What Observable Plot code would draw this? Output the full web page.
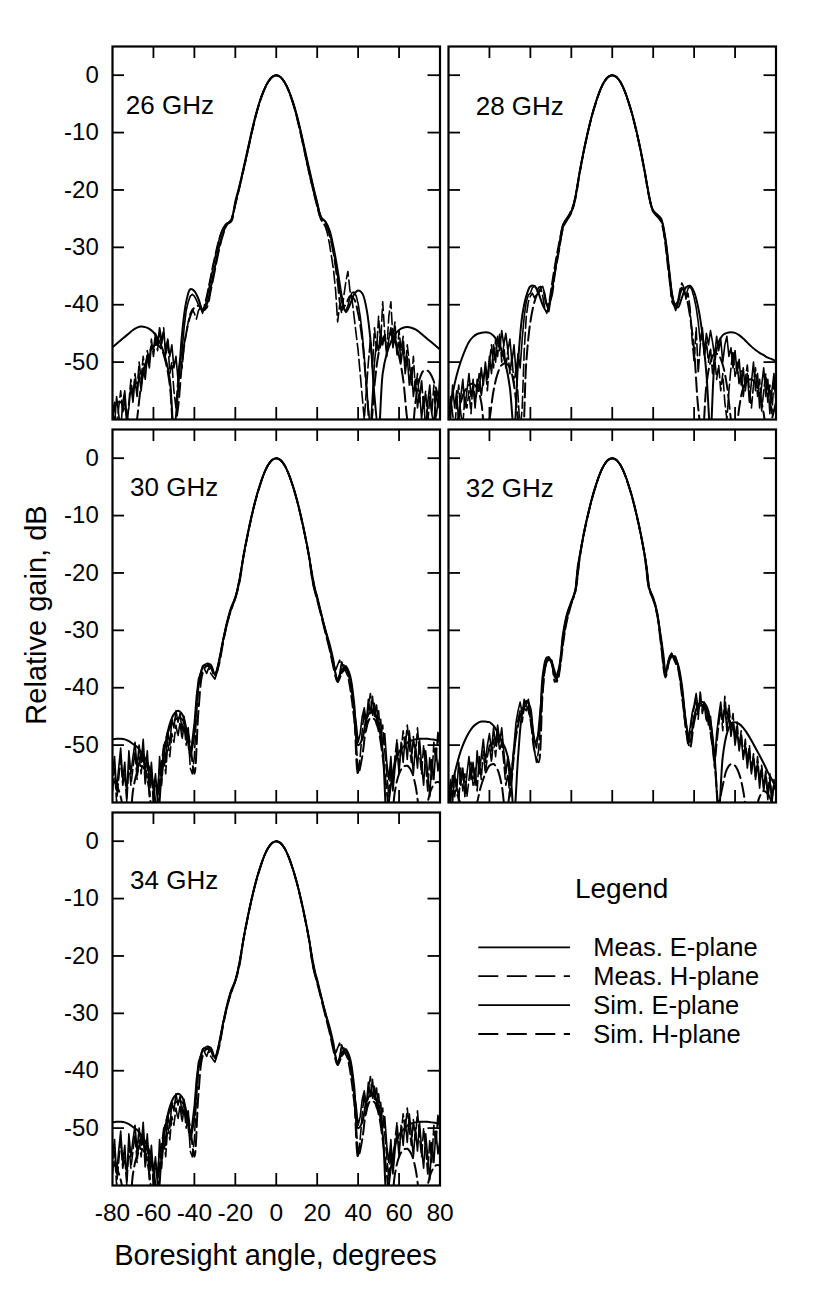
<!DOCTYPE html>
<html><head><meta charset="utf-8">
<script src="https://cdn.jsdelivr.net/npm/d3@7"></script>
<script src="https://cdn.jsdelivr.net/npm/@observablehq/plot@0.6"></script>
<style>
html,body{margin:0;padding:0;background:#fff;}
#page{position:relative;width:830px;height:1308px;overflow:hidden;background:#fff;}
#page svg{position:absolute;}
</style></head><body><div id="page"></div>
<script>
// ---------- angle grids (degrees) ----------
const simAngles = [-80,-78,-76,-74,-72,-70,-68,-66,-64,-62,-60,-58,-56,-54,-52,-50,-48,-46,-44,-42,-40,-38,-36,-34,-32,-30,-28,-26,-24,-22,-20,-18,-16,-14,-12,-10,-8,-6,-4,-2,0,2,4,6,8,10,12,14,16,18,20,22,24,26,28,30,32,34,36,38,40,42,44,46,48,50,52,54,56,58,60,62,64,66,68,70,72,74,76,78,80];
const measAngles = [-80,-79,-78,-77,-76,-75,-74,-73,-72,-71,-70,-69,-68,-67,-66,-65,-64,-63,-62,-61,-60,-59,-58,-57,-56,-55,-54,-53,-52,-51,-50,-49,-48,-47,-46,-45,-44,-43,-42,-41,-40,-39,-38,-37,-36,-35,-34,-33,-32,-31,-30,-29,-28,-27,-26,-25,-24,-23,-22,-21,-20,-19,-18,-17,-16,-15,-14,-13,-12,-11,-10,-9,-8,-7,-6,-5,-4,-3,-2,-1,0,1,2,3,4,5,6,7,8,9,10,11,12,13,14,15,16,17,18,19,20,21,22,23,24,25,26,27,28,29,30,31,32,33,34,35,36,37,38,39,40,41,42,43,44,45,46,47,48,49,50,51,52,53,54,55,56,57,58,59,60,61,62,63,64,65,66,67,68,69,70,71,72,73,74,75,76,77,78,79,80];

// ---------- tick values ----------
const xTickLabels = [-80,-60,-40,-20,0,20,40,60,80];
const xInnerTicks = [-60,-40,-20,0,20,40,60];
const yTicks = [0,-10,-20,-30,-40,-50];

// ---------- 26 GHz ----------
const simE26 = [-47.4,-46.8,-46.2,-45.6,-45.0,-44.4,-44.0,-43.8,-43.9,-44.2,
 -44.8,-45.8,-47.3,-49.5,-53,-62,-55,-45,-39.5,-37.3,
 -37.6,-39.0,-40.8,-40.0,-37.0,-33.5,-30.0,-27.5,-25.9,-25.3,
 -22.0,-19.3,-16.2,-13.0,-9.8,-6.9,-4.5,-2.6,-1.2,-0.3,
 0,
 -0.3,-1.2,-2.6,-4.5,-6.9,-9.8,-13.0,-16.2,-19.3,-22.2,
 -24.8,-25.5,-27.0,-30.0,-34.0,-38.5,-41.3,-40.0,-38.2,-37.5,
 -38.0,-40.5,-46,-56,-62,-52,-48.5,-46.5,-45.2,-44.4,
 -44.0,-43.9,-44.0,-44.3,-44.8,-45.4,-46.0,-46.6,-47.2,-47.8];
const simH26 = [-58,-57,-57,-58,-61,-66,-60,-54,-50.5,-48.3,
 -47.2,-47.0,-47.8,-50,-54,-62,-58,-50,-45,-42,
 -40.5,-40.2,-41,-40.5,-37.5,-34,-30.5,-27.8,-26.0,-25.5,
 -22.5,-19.6,-16.5,-13.3,-10.0,-7.1,-4.6,-2.7,-1.2,-0.3,
 0,
 -0.3,-1.2,-2.7,-4.7,-7.2,-10.2,-13.5,-16.8,-19.8,-22.6,
 -25.0,-25.8,-27.8,-31.0,-36.0,-40.5,-40.0,-38.5,-39.0,-41.5,
 -46,-54,-62,-54,-48.5,-46.0,-45.0,-45.2,-46.5,-49,
 -53,-60,-64,-57,-53,-51.5,-51.5,-52.5,-54.5,-57];
const measE26 = [-58,-61,-56,-59,-62,-57,-55,-60,-58,-54,
 -57,-53,-56,-52,-55,-51,-53,-49,-51,-47,
 -48,-45,-47,-44,-46,-45,-48,-46,-49,-47,
 -51,-49,-53,-50,-48,-44,-41,-39.5,-38.5,-38.2,
 -38.5,-39.2,-40.0,-40.6,-41.0,-40.6,-39.2,-37.4,-35.6,-33.8,
 -32.0,-30.3,-28.8,-27.6,-26.7,-26.1,-25.8,-25.6,-25.3,-24.0,
 -22.4,-20.9,-19.4,-17.9,-16.3,-14.8,-13.2,-11.6,-10.0,-8.5,
 -7.0,-5.7,-4.5,-3.5,-2.6,-1.8,-1.2,-0.7,-0.3,-0.1,
 0,
 -0.1,-0.3,-0.7,-1.2,-1.8,-2.6,-3.5,-4.5,-5.7,-7.0,
 -8.5,-10.0,-11.6,-13.2,-14.8,-16.3,-17.9,-19.4,-20.9,-22.3,
 -23.8,-24.8,-25.2,-25.5,-26.2,-27.4,-29.0,-30.8,-32.8,-35.0,
 -37.5,-39.5,-40.8,-41.0,-40.2,-38.8,-37.9,-37.8,-38.4,-39.8,
 -42.0,-45.0,-49.0,-54.0,-58.0,-62.0,-56.0,-50.0,-46.5,-48.0,
 -44.5,-47.0,-45.2,-49.0,-46.0,-44.0,-47.5,-45.0,-48.0,-46.5,
 -50.0,-47.0,-52.0,-49.0,-54.0,-51.0,-56.0,-53.0,-58.0,-55.0,
 -60.0,-56.0,-62.0,-57.0,-54.0,-59.0,-61.0,-55.0,-58.0,-52.0];
const measH26 = [-60,-57,-62,-58,-55,-59,-56,-61,-57,-53,
 -56,-52,-55,-50,-53,-49,-52,-48,-50,-46,
 -49,-46,-48,-45,-47,-44,-49,-46,-52,-50,
 -55,-58,-53,-49,-51,-47,-45,-43,-41.5,-40.8,
 -41.5,-42.5,-41.0,-40.5,-41.5,-40.0,-38.5,-36.8,-35.0,-33.2,
 -31.6,-30.0,-28.6,-27.5,-26.7,-26.1,-25.8,-25.6,-25.2,-24.0,
 -22.6,-21.1,-19.6,-18.1,-16.5,-15.0,-13.4,-11.8,-10.2,-8.6,
 -7.1,-5.8,-4.6,-3.5,-2.6,-1.8,-1.2,-0.7,-0.3,-0.1,
 0,
 -0.1,-0.3,-0.7,-1.2,-1.8,-2.6,-3.6,-4.7,-5.9,-7.3,
 -8.8,-10.4,-12.0,-13.7,-15.4,-17.0,-18.6,-20.1,-21.6,-23.0,
 -24.4,-25.3,-25.8,-26.4,-27.6,-29.4,-31.6,-34.0,-37.5,-43.0,
 -40.0,-41.5,-38.5,-36.0,-34.2,-37.5,-39.0,-42.0,-45.0,-48.0,
 -52.0,-56.0,-60.0,-55.0,-50.0,-46.0,-51.0,-44.0,-48.0,-42.0,
 -47.0,-39.5,-45.0,-48.0,-42.0,-39.5,-46.0,-43.0,-49.0,-44.5,
 -48.0,-45.5,-51.0,-47.0,-50.0,-54.0,-49.0,-55.0,-52.0,-57.0,
 -53.0,-58.0,-55.0,-61.0,-56.0,-59.0,-54.0,-60.0,-57.0,-55.0];

// ---------- 28 GHz ----------
const simE28 = [-59.6,-55.5,-52.3,-49.9,-48.0,-46.5,-45.6,-45.1,-44.9,-44.8,
 -44.9,-45.4,-46.4,-48.0,-50.5,-54.5,-62,-50,-42,-38.5,
 -36.8,-36.7,-38.0,-40.0,-41.2,-38.5,-34.2,-30.0,-26.0,-25.0,
 -23.8,-21.3,-17.0,-13.3,-10.0,-7.1,-4.7,-2.7,-1.2,-0.3,
 0,
 -0.3,-1.2,-2.7,-4.7,-7.1,-10.0,-13.3,-17.0,-21.0,-23.6,
 -24.3,-25.2,-28.5,-34.5,-39.5,-40.5,-38.8,-37.0,-36.7,-37.8,
 -40.5,-45,-52,-62,-50,-46.5,-45.3,-44.9,-44.8,-44.9,
 -45.3,-45.9,-46.6,-47.3,-47.9,-48.4,-48.8,-49.2,-49.5,-49.8];
const simH28 = [-62,-66,-62,-57,-55,-54,-53.8,-54.5,-57,-63,
 -60,-55,-52,-50.5,-50.2,-51,-54,-60,-64,-50,
 -43,-39.5,-37.8,-37.5,-40,-39,-34.5,-30.5,-26.5,-25.2,
 -24.0,-21.5,-17.2,-13.4,-10.1,-7.2,-4.8,-2.7,-1.2,-0.3,
 0,
 -0.3,-1.2,-2.7,-4.8,-7.2,-10.1,-13.4,-17.2,-21.2,-23.8,
 -24.6,-25.6,-29.0,-35.0,-40.0,-39.5,-37.2,-38.5,-42,-48,
 -58,-63,-54,-50,-48.5,-48.8,-50.5,-54,-60,-64,
 -58,-54.5,-53.2,-53.0,-53.6,-55.5,-59,-64,-60,-57];
const measE28 = [-57,-60,-54,-58,-55,-61,-56,-53,-58,-55,
 -52,-56,-54,-58,-53,-55,-51,-54,-50,-53,
 -49,-52,-47,-50,-45.5,-48,-44.5,-47,-45,-48,
 -46,-50,-47,-52,-48.5,-51,-46,-42,-39.5,-38.3,
 -38.0,-37.0,-36.7,-37.2,-38.0,-37.0,-36.8,-38.0,-40.0,-41.2,
 -39.0,-36.5,-34.0,-32.0,-30.2,-28.4,-26.5,-25.4,-25.0,-24.5,
 -23.8,-22.8,-21.0,-19.0,-17.0,-15.1,-13.3,-11.6,-10.0,-8.5,
 -7.1,-5.8,-4.7,-3.6,-2.7,-1.9,-1.2,-0.7,-0.3,-0.1,
 0,
 -0.1,-0.3,-0.7,-1.2,-1.9,-2.7,-3.6,-4.7,-5.8,-7.1,
 -8.5,-10.0,-11.6,-13.3,-15.1,-17.0,-19.0,-21.0,-22.8,-23.6,
 -24.0,-24.3,-24.6,-25.0,-26.5,-28.8,-31.8,-35.0,-37.5,-39.5,
 -40.5,-40.0,-38.5,-37.0,-37.5,-38.5,-37.2,-36.8,-37.5,-38.8,
 -40.5,-43.0,-46.5,-44.0,-48.5,-45.0,-47.0,-44.5,-46.5,-49.0,
 -45.5,-48.0,-46.0,-50.0,-47.0,-45.5,-49.0,-47.5,-51.0,-48.0,
 -52.0,-49.5,-54.0,-51.0,-55.0,-52.0,-57.0,-53.5,-50.0,-55.0,
 -52.0,-58.0,-54.0,-51.0,-56.0,-53.0,-59.0,-55.0,-52.0,-57.0];
const measH28 = [-60,-56,-59,-62,-57,-54,-59,-61,-56,-58,
 -55,-59,-53,-57,-55,-52,-56,-53,-51,-55,
 -50,-47,-51,-46,-49,-45,-50,-47,-51,-48,
 -52,-49,-54,-51,-56,-62,-58,-48,-42,-39.5,
 -38.5,-38.0,-38.8,-38.2,-37.0,-36.8,-38.5,-40.5,-41.5,-40.0,
 -37.5,-35.2,-33.0,-31.0,-29.2,-27.5,-26.0,-25.3,-24.8,-24.2,
 -23.5,-22.6,-21.2,-19.3,-17.3,-15.4,-13.5,-11.8,-10.2,-8.6,
 -7.2,-5.9,-4.8,-3.7,-2.7,-1.9,-1.2,-0.7,-0.3,-0.1,
 0,
 -0.1,-0.3,-0.7,-1.2,-1.9,-2.7,-3.7,-4.8,-5.9,-7.2,
 -8.6,-10.2,-11.8,-13.5,-15.3,-17.2,-19.2,-21.2,-22.9,-23.8,
 -24.2,-24.6,-25.0,-25.6,-27.2,-29.8,-33.0,-36.0,-38.5,-40.0,
 -41.0,-39.5,-37.5,-36.2,-37.0,-39.0,-38.0,-40.5,-46.0,-50.0,
 -44.0,-52.0,-47.0,-45.0,-49.0,-46.5,-50.0,-47.5,-52.0,-49.0,
 -53.0,-50.5,-55.0,-52.0,-57.0,-60.0,-55.0,-51.0,-48.0,-52.5,
 -50.0,-54.0,-51.5,-56.0,-53.0,-50.5,-55.0,-58.0,-54.0,-51.0,
 -56.0,-53.0,-58.5,-55.0,-52.0,-57.0,-54.0,-59.0,-53.0,-56.0];

// ---------- 30 GHz ----------
const simE30 = [-49.0,-48.9,-48.9,-49.0,-49.3,-49.8,-50.3,-51.2,-52.3,-54.0,
 -57.0,-63,-55,-49.5,-46.3,-44.6,-44.0,-44.6,-47.0,-51.8,
 -48,-39.5,-36.5,-35.8,-36.0,-37.6,-35.5,-31.8,-28.5,-26.0,
 -24.3,-21.5,-17.0,-13.3,-10.0,-7.1,-4.7,-2.7,-1.2,-0.3,
 0,
 -0.3,-1.2,-2.7,-4.7,-7.1,-10.0,-13.3,-17.0,-21.8,-24.5,
 -27.2,-30.0,-32.8,-36.0,-38.5,-37.0,-36.3,-37.8,-42.5,-50,
 -49,-45.5,-44.3,-44.5,-46.5,-51,-62,-57,-53,-51.2,
 -50.3,-49.6,-49.2,-49.0,-48.9,-48.9,-48.9,-49.0,-49.1,-49.3];
const simH30 = [-56,-57,-59,-63,-66,-58,-54.8,-53.6,-54.5,-58,
 -64,-60,-53,-49,-47,-45.8,-45.3,-45.5,-46.8,-50,
 -55,-44,-37.5,-36.2,-36.5,-38.0,-36.0,-32.2,-28.8,-26.2,
 -24.4,-21.6,-17.1,-13.4,-10.1,-7.2,-4.8,-2.7,-1.2,-0.3,
 0,
 -0.3,-1.2,-2.7,-4.8,-7.2,-10.1,-13.4,-17.1,-21.9,-24.7,
 -27.5,-30.4,-33.2,-36.5,-39.0,-37.5,-36.8,-38.5,-44,-55,
 -52,-47,-45.3,-45.5,-47.5,-52,-58,-64,-58,-55,
 -53.8,-53.6,-54.5,-57,-62,-66,-60,-57.5,-56.5,-56.5];
const measE30 = [-55,-52,-58,-54,-50.5,-56,-53,-59,-51,-55,
 -52,-49.5,-54,-50,-53,-49,-55,-51,-57,-53,
 -58,-55,-60,-52,-56,-50,-53,-47.5,-50,-45.5,
 -47,-44,-46,-44.5,-47.5,-45,-49,-47,-52,-49,
 -46,-41.5,-38.5,-37.5,-36.2,-36.0,-36.3,-35.8,-36.5,-37.2,
 -37.8,-37.0,-35.2,-33.4,-31.6,-30.0,-28.6,-27.3,-26.2,-25.2,
 -24.2,-22.8,-21.0,-19.0,-17.0,-15.1,-13.3,-11.6,-10.0,-8.5,
 -7.1,-5.8,-4.7,-3.6,-2.7,-1.9,-1.2,-0.7,-0.3,-0.1,
 0,
 -0.1,-0.3,-0.7,-1.2,-1.9,-2.7,-3.6,-4.7,-5.8,-7.1,
 -8.5,-10.0,-11.6,-13.3,-15.1,-17.0,-19.0,-21.0,-22.8,-24.0,
 -25.5,-27.0,-28.5,-29.8,-31.0,-32.2,-33.6,-35.2,-37.5,-39.0,
 -37.5,-35.5,-36.8,-36.2,-37.0,-38.8,-41.0,-43.5,-46.0,-49.5,
 -48.0,-45.0,-43.5,-46.0,-42.0,-44.5,-41.5,-45.0,-43.0,-47.0,
 -45.5,-50.0,-48.0,-53.0,-56.0,-52.0,-58.0,-54.0,-50.5,-55.0,
 -49.5,-53.0,-48.5,-52.5,-47.5,-51.0,-55.0,-50.0,-54.0,-49.0,
 -53.5,-57.0,-51.0,-55.0,-59.0,-52.5,-56.0,-50.5,-54.5,-52.0];
const measH30 = [-58,-54,-60,-56,-52,-57,-55,-60,-53,-57,
 -54,-51,-56,-52,-55,-51,-57,-53,-59,-55,
 -60,-56,-58,-54,-57,-52,-55,-49.5,-52,-48,
 -49.5,-46.5,-48.5,-46,-49,-46.5,-50,-48,-54,-55,
 -52,-44.5,-40,-38.5,-37.2,-36.8,-37.5,-36.5,-37.5,-38,
 -38.5,-37.5,-35.8,-33.8,-32.0,-30.4,-29.0,-27.6,-26.5,-25.5,
 -24.4,-22.9,-21.2,-19.2,-17.2,-15.3,-13.5,-11.8,-10.2,-8.6,
 -7.2,-5.9,-4.8,-3.7,-2.7,-1.9,-1.2,-0.7,-0.3,-0.1,
 0,
 -0.1,-0.3,-0.7,-1.2,-1.9,-2.7,-3.7,-4.8,-5.9,-7.2,
 -8.6,-10.2,-11.8,-13.5,-15.3,-17.2,-19.2,-21.2,-23.0,-24.3,
 -25.8,-27.3,-28.8,-30.1,-31.3,-32.6,-34.0,-35.8,-37.0,-36.0,
 -35.2,-37.5,-36.0,-37.2,-38.0,-40.0,-42.5,-45.5,-49.0,-55.0,
 -52.0,-47.5,-44.0,-47.5,-43.5,-41.0,-45.0,-42.5,-46.5,-44.0,
 -48.5,-46.5,-51.0,-55.0,-59.0,-54.0,-57.0,-52.0,-49.0,-53.5,
 -51.0,-47.5,-50.5,-46.5,-50.0,-53.0,-48.5,-52.0,-47.0,-51.5,
 -55.0,-50.0,-53.5,-58.0,-52.0,-56.0,-49.5,-53.0,-47.5,-51.0];

// ---------- 32 GHz ----------
const simE32 = [-59.7,-56.5,-53.5,-51.0,-49.2,-47.8,-46.8,-46.2,-45.9,-45.9,
 -46.0,-46.6,-47.8,-49.3,-50.8,-54,-62,-52,-44.5,-42.3,
 -43.5,-49.5,-48,-38,-34.7,-35.2,-38.2,-36.5,-30.5,-27.0,
 -25.0,-23.0,-17.5,-13.3,-10.0,-7.1,-4.7,-2.7,-1.2,-0.3,
 0,
 -0.3,-1.2,-2.7,-4.7,-7.1,-10.0,-13.3,-17.3,-22.6,-24.3,
 -27.0,-32.5,-37.8,-34.8,-34.5,-35.8,-39.5,-46,-49.5,-45,
 -43,-42.5,-43.2,-46,-52,-62,-52,-48,-46.3,-46.0,
 -46.3,-47.0,-48.0,-49.2,-50.5,-51.8,-53.2,-54.7,-56.0,-57.5];
const simH32 = [-60,-58,-58.5,-60.5,-64,-68,-63,-60,-57,-55,
 -53.6,-53.3,-54.3,-57,-62,-58,-51,-46.5,-43.8,-43.2,
 -45.5,-51,-53,-41,-35.5,-35.0,-39.0,-37.0,-31.0,-27.3,
 -25.2,-23.2,-17.6,-13.4,-10.1,-7.2,-4.8,-2.7,-1.2,-0.3,
 0,
 -0.3,-1.2,-2.7,-4.8,-7.2,-10.1,-13.4,-17.4,-22.8,-24.6,
 -27.4,-33.0,-38.2,-35.2,-34.2,-36.0,-40.5,-47,-50.5,-46,
 -43.5,-43.0,-44,-47.5,-53,-60,-57,-54.2,-53.3,-53.6,
 -55,-58,-63,-67,-62,-59,-58,-58.5,-60,-62];
const measE32 = [-59,-56,-60,-55,-58,-53,-57,-54,-59,-55,
 -52,-56,-53,-57,-51,-55,-52,-49,-53,-50,
 -48,-51,-47,-50,-46.5,-49.5,-47,-51,-55,-52,
 -57,-54,-50,-46,-44,-42.5,-44.5,-42,-43,-42,
 -44,-46.5,-49,-50.5,-47,-43,-39,-36.2,-35,-34.6,
 -35.2,-36.0,-37.2,-38.5,-37.5,-34.5,-32.0,-29.5,-27.8,-26.4,
 -25.2,-24.2,-22.8,-19.0,-17.0,-15.1,-13.3,-11.6,-10.0,-8.5,
 -7.1,-5.8,-4.7,-3.6,-2.7,-1.9,-1.2,-0.7,-0.3,-0.1,
 0,
 -0.1,-0.3,-0.7,-1.2,-1.9,-2.7,-3.6,-4.7,-5.8,-7.1,
 -8.5,-10.0,-11.6,-13.3,-15.1,-17.0,-19.2,-22.5,-23.5,-24.4,
 -25.5,-27.0,-29.2,-31.5,-34.0,-37.5,-36.0,-34.5,-34.0,-34.8,
 -35.5,-36.0,-37.5,-40.0,-43.0,-46.0,-49.0,-47.0,-44.5,-43.0,
 -41.0,-44.0,-42.0,-43.5,-42.5,-44.0,-46.5,-45.0,-49.0,-53.0,
 -48.0,-45.0,-42.5,-46.0,-43.0,-47.5,-44.5,-48.5,-46.0,-50.0,
 -47.5,-51.0,-48.5,-52.5,-50.0,-54.0,-51.0,-55.0,-52.0,-56.0,
 -53.0,-57.5,-54.0,-58.0,-55.0,-59.5,-56.0,-60.0,-57.0,-58.0];
const measH32 = [-57,-60,-55,-59,-56,-60,-54,-58,-55,-59,
 -56,-53,-57,-54,-58,-52,-56,-51,-55,-52,
 -50,-53,-49,-52,-48,-51,-49.5,-53,-57,-55,
 -59,-56,-52,-48,-45.5,-44,-46,-43.5,-44,-43,
 -45.5,-48,-51,-53,-51,-45,-40.5,-37,-35.5,-35,
 -35.5,-36.5,-38,-39,-38,-35.5,-32.5,-30,-28.2,-26.8,
 -25.5,-24.5,-23.2,-19.4,-17.3,-15.3,-13.5,-11.8,-10.2,-8.6,
 -7.2,-5.9,-4.8,-3.7,-2.7,-1.9,-1.2,-0.7,-0.3,-0.1,
 0,
 -0.1,-0.3,-0.7,-1.2,-1.9,-2.7,-3.7,-4.8,-5.9,-7.2,
 -8.6,-10.2,-11.8,-13.5,-15.3,-17.2,-19.4,-22.8,-23.8,-24.7,
 -25.8,-27.4,-29.6,-32.0,-34.8,-38.0,-36.5,-34.8,-34.0,-35.0,
 -35.8,-36.5,-38.5,-41.5,-44.5,-47.5,-50.0,-48.0,-45.0,-43.5,
 -42.0,-45.5,-40.5,-44.5,-43.0,-46.0,-44.0,-48.0,-50.5,-54.0,
 -50.0,-46.5,-43.5,-47.5,-41.5,-45.5,-43.0,-47.0,-44.5,-49.0,
 -46.0,-50.5,-47.5,-52.0,-49.0,-53.0,-50.0,-54.5,-51.5,-55.5,
 -52.0,-56.5,-53.5,-57.5,-54.5,-58.5,-55.0,-59.5,-56.0,-58.5];

// ---------- 34 GHz (drawn identical to 30 GHz in the figure) ----------
const simE34 = simE30, simH34 = simH30, measE34 = measE30, measH34 = measH30;

// ---------- labels ----------
const panelLabels = ["26 GHz","28 GHz","30 GHz","32 GHz","34 GHz"];
const legendLabels = ["Meas. E-plane","Meas. H-plane","Sim. E-plane","Sim. H-plane"];
const legendDashed = [false,true,false,true];

const panelData = [
  {simE: simE26, simH: simH26, measE: measE26, measH: measH26},
  {simE: simE28, simH: simH28, measE: measE28, measH: measH28},
  {simE: simE30, simH: simH30, measE: measE30, measH: measH30},
  {simE: simE32, simH: simH32, measE: measE32, measH: measH32},
  {simE: simE34, simH: simH34, measE: measE34, measH: measH34}
];

// ---------- layout (page pixels) ----------
const FONT = "'Liberation Sans', Arial, Helvetica, sans-serif";
const innerW = 327.5, innerH = 373;
const layout = [
  {fx: 111.7, fy: 45.6, showY: true,  showX: false, ldx: 13.3, ldy: 59.4},
  {fx: 447.8, fy: 45.6, showY: false, showX: false, ldx: 27.2, ldy: 59.7},
  {fx: 111.7, fy: 429.0, showY: true, showX: false, ldx: 17.6, ldy: 58.5},
  {fx: 447.8, fy: 429.0, showY: false, showX: false, ldx: 17.2, ldy: 59.3},
  {fx: 111.7, fy: 812.0, showY: true, showX: true, ldx: 17.6, ldy: 68.0}
];

const page = document.getElementById("page");
const rows = (angles, vals) => angles.map((a, i) => ({a, g: vals[i]}));

panelData.forEach((p, k) => {
  const L = layout[k];
  const ml = L.showY ? 75 : 4, mr = 4, mt = 4, mb = L.showX ? 55 : 4;
  const lineOpts = {x: "a", y: "g", stroke: "#000", clip: true, strokeLinejoin: "round"};
  const marks = [
    Plot.line(rows(measAngles, p.measE), {...lineOpts, strokeWidth: 1.6}),
    Plot.line(rows(measAngles, p.measH), {...lineOpts, strokeWidth: 1.6, strokeDasharray: "12,4"}),
    Plot.line(rows(simAngles, p.simE), {...lineOpts, curve: "catmull-rom", strokeWidth: 2}),
    Plot.line(rows(simAngles, p.simH), {...lineOpts, curve: "catmull-rom", strokeWidth: 2, strokeDasharray: "14,5"}),
    Plot.ruleX(xInnerTicks, {x: d => d, insetTop: innerH - 12, stroke: "#000", strokeWidth: 1.8}),
    Plot.ruleX(xInnerTicks, {x: d => d, insetBottom: innerH - 12, stroke: "#000", strokeWidth: 1.8}),
    Plot.ruleY(yTicks, {y: d => d, insetLeft: innerW - 12, stroke: "#000", strokeWidth: 1.8}),
    Plot.ruleY(yTicks, {y: d => d, insetRight: innerW - 12, stroke: "#000", strokeWidth: 1.8}),
    Plot.frame({stroke: "#000", strokeWidth: 2.2}),
    Plot.text([panelLabels[k]], {text: d => d, frameAnchor: "top-left", dx: L.ldx, dy: L.ldy,
      textAnchor: "start", lineAnchor: "middle", fontSize: 26, fill: "#000"})
  ];
  if (L.showY) marks.push(Plot.axisY(yTicks, {anchor: "left", tickSize: 0, tickPadding: 13.7,
    fontSize: 24, tickFormat: d => String(d), label: null, fill: "#000"}));
  if (L.showX) marks.push(Plot.axisX(xTickLabels, {anchor: "bottom", tickSize: 0, tickPadding: 18,
    fontSize: 24.5, tickFormat: d => String(d), label: null, fill: "#000"}));
  const chart = Plot.plot({
    width: innerW + ml + mr, height: innerH + mt + mb,
    marginLeft: ml, marginRight: mr, marginTop: mt, marginBottom: mb,
    x: {domain: [-80, 80], axis: null, label: null},
    y: {domain: [-60, 5], axis: null, label: null},
    style: {background: "transparent", fontFamily: FONT, color: "#000", overflow: "visible"},
    marks
  });
  chart.style.position = "absolute";
  chart.style.left = (L.fx - ml) + "px";
  chart.style.top = (L.fy - mt) + "px";
  chart.style.maxWidth = "none";
  page.appendChild(chart);
});

// ---------- overlay: axis titles and legend ----------
const ov = d3.create("svg").attr("width", 830).attr("height", 1308)
  .style("left", "0px").style("top", "0px").style("font-family", FONT);
ov.append("text").attr("x", 275.5).attr("y", 1265).attr("text-anchor", "middle")
  .attr("font-size", 29).attr("fill", "#000").text("Boresight angle, degrees");
ov.append("text").attr("transform", "translate(46,615) rotate(-90)").attr("text-anchor", "middle")
  .attr("font-size", 29).attr("fill", "#000").text("Relative gain, dB");
ov.append("text").attr("x", 621.7).attr("y", 898).attr("text-anchor", "middle")
  .attr("font-size", 28).attr("fill", "#000").text("Legend");
const lg = ov.append("g");
legendLabels.forEach((lab, i) => {
  const y = 947.3 + i * 28.9;
  lg.append("line").attr("x1", 478.3).attr("x2", 570).attr("y1", y).attr("y2", y)
    .attr("stroke", "#000").attr("stroke-width", 1.8)
    .attr("stroke-dasharray", legendDashed[i] ? "20,8.5" : null);
  lg.append("text").attr("x", 593.3).attr("y", y + 9).attr("font-size", 25.5)
    .attr("fill", "#000").text(lab);
});
page.appendChild(ov.node());
</script>
</body></html>
